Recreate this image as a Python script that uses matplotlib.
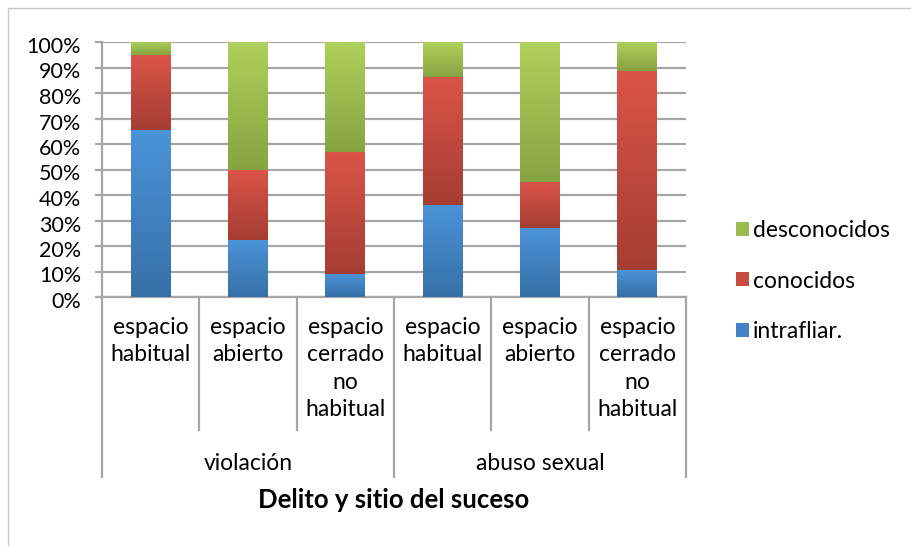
import matplotlib
matplotlib.use("Agg")
import matplotlib.pyplot as plt
import numpy as np
from matplotlib.colors import LinearSegmentedColormap
from matplotlib.patches import Patch
from matplotlib.lines import Line2D
import matplotlib.transforms as mtransforms

plt.rcParams['font.family'] = ['Lato', 'DejaVu Sans']

# ---- data ----
categories = ["espacio\nhabitual", "espacio\nabierto", "espacio\ncerrado\nno\nhabitual",
              "espacio\nhabitual", "espacio\nabierto", "espacio\ncerrado\nno\nhabitual"]
groups = ["violación", "abuso sexual"]
group_sizes = [3, 3]
intrafliar = [0.655, 0.224, 0.090, 0.361, 0.271, 0.106]
conocidos = [0.294, 0.274, 0.479, 0.502, 0.180, 0.780]
desconocidos = [0.051, 0.502, 0.431, 0.137, 0.549, 0.114]
series_names = ["intrafliar.", "conocidos", "desconocidos"]
yticks = [0, 0.1, 0.2, 0.3, 0.4, 0.5, 0.6, 0.7, 0.8, 0.9, 1.0]
ytick_labels = ["0%", "10%", "20%", "30%", "40%", "50%", "60%", "70%", "80%", "90%", "100%"]
xlabel = "Delito y sitio del suceso"

# ---- style ----
W, H = 911, 546
FS = 16.5
grad = {
    "intrafliar.": ("#4B93D8", "#3770A8"),
    "conocidos": ("#DB5448", "#A53D33"),
    "desconocidos": ("#AFD05A", "#87A443"),
}
mid = {"intrafliar.": "#4282C4", "conocidos": "#C84B40", "desconocidos": "#9CBB4F"}
grid_col = "#A6A6A6"

fig = plt.figure(figsize=(W / 100, H / 100), dpi=100)
ax = fig.add_axes([102 / W, 1 - 297 / H, (686 - 102) / W, (297 - 42) / H])

x = np.arange(len(categories))
bw = 0.41
bottom = np.zeros(len(categories))
for name, vals in zip(series_names, [intrafliar, conocidos, desconocidos]):
    vals = np.array(vals)
    bars = ax.bar(x, vals, bw, bottom=bottom, color=mid[name], edgecolor="none", zorder=3, label=name)
    cmap = LinearSegmentedColormap.from_list(name, [grad[name][1], grad[name][0]])
    g = np.linspace(0, 1, 100).reshape(-1, 1)
    for xi, b, v, patch in zip(x, bottom, vals, bars):
        im = ax.imshow(g, cmap=cmap, origin="lower", aspect="auto",
                       extent=[xi - bw / 2, xi + bw / 2, b, b + v], zorder=4)
        im.set_clip_path(patch)
    bottom += vals

ax.set_xlim(-0.5, len(categories) - 0.5)
ax.set_ylim(0, 1)
ax.set_yticks(yticks)
ax.set_yticklabels(ytick_labels, fontsize=15.5)
ax.set_xticks([])
ax.yaxis.grid(True, color=grid_col, linewidth=1.6, zorder=0)
ax.set_axisbelow(True)
for s in ["top", "right"]:
    ax.spines[s].set_visible(False)
ax.spines["left"].set_color(grid_col)
ax.spines["left"].set_linewidth(1.6)
ax.spines["bottom"].set_color(grid_col)
ax.spines["bottom"].set_linewidth(1.6)
ax.tick_params(axis="y", length=5, width=1.6, color=grid_col, pad=10, labelcolor="#000000")
shift = mtransforms.ScaledTranslation(0, -3 / 100, fig.dpi_scale_trans)
for lbl in ax.get_yticklabels():
    lbl.set_transform(lbl.get_transform() + shift)

# category separators and labels below axis
trans = mtransforms.blended_transform_factory(ax.transData, ax.transAxes)
inner_end = (297 - 430) / 255
group_end = (297 - 477) / 255
bounds = np.arange(len(categories) + 1) - 0.5
group_bounds = np.concatenate([[0], np.cumsum(group_sizes)]) - 0.5
for b in bounds:
    end = group_end if np.any(np.isclose(b, group_bounds)) else inner_end
    ax.add_line(Line2D([b, b], [0, end], transform=trans, color=grid_col, lw=1.6, clip_on=False))
for xi, lab in zip(x, categories):
    ax.text(xi, (297 - 317) / 255, lab, transform=trans, ha="center", va="top",
            fontsize=FS, linespacing=1.38)
starts = np.concatenate([[0], np.cumsum(group_sizes)[:-1]])
for st, n, gname in zip(starts, group_sizes, groups):
    ax.text(st + (n - 1) / 2, (297 - 463) / 255, gname, transform=trans, ha="center",
            va="center", fontsize=FS)
ax.text(0.5, (297 - 500) / 255, xlabel, transform=ax.transAxes, ha="center", va="center",
        fontsize=18.5, fontweight="bold")

# legend
handles = [Patch(facecolor=mid[n], edgecolor="none") for n in series_names[::-1]]
fig.legend(handles, series_names[::-1], loc="center left",
           bbox_to_anchor=(736 / W, 1 - 281 / H), frameon=False, fontsize=FS,
           labelspacing=1.3, handlelength=0.55, handleheight=0.55, handletextpad=0.2,
           borderpad=0, borderaxespad=0)

# outer chart border
fig.add_artist(Line2D([8 / W, 1], [1 - 8 / H, 1 - 8 / H], transform=fig.transFigure,
                      color="#C8C8C8", lw=1))
fig.add_artist(Line2D([8 / W, 8 / W], [0, 1 - 8 / H], transform=fig.transFigure,
                      color="#C8C8C8", lw=1))

fig.savefig("out.png", dpi=100)
